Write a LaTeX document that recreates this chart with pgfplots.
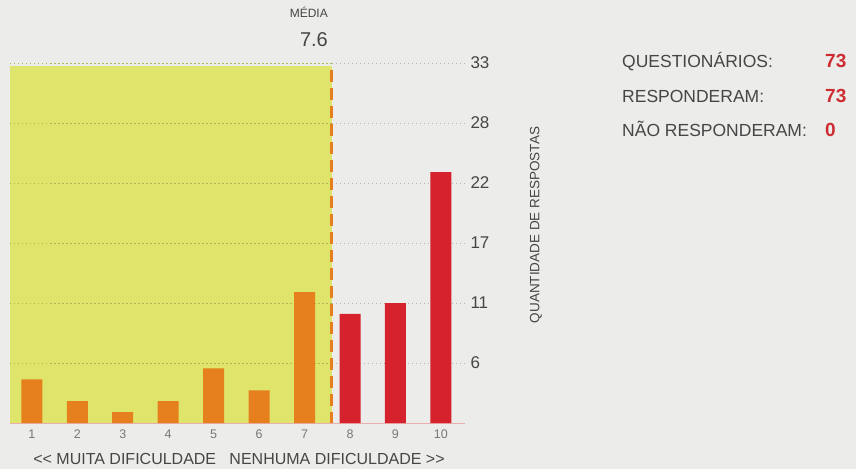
\documentclass[border=0pt]{standalone}
\usepackage{pgfplots}
\pgfplotsset{compat=1.18}
\usepackage{fontspec}
\setmainfont{Liberation Sans}

\definecolor{bgc}{RGB}{236,236,234}
\definecolor{amarelo}{RGB}{223,228,106}
\definecolor{laranja}{RGB}{230,128,30}
\definecolor{vermelho}{RGB}{214,34,44}
\definecolor{numred}{RGB}{205,45,50}
\definecolor{txt}{RGB}{70,70,70}
\definecolor{tick}{RGB}{120,120,120}

\begin{document}
\begin{tikzpicture}
	% page = 856 x 469 (1pt = 1px)
	\fill[bgc] (0pt,0pt) rectangle (856pt,469pt);
	\useasboundingbox (0pt,0pt) rectangle (856pt,469pt);

	\begin{axis}[
			at={(10pt,46pt)}, anchor=south west,
			scale only axis, width=455pt, height=360pt,
			xmin=0.52, xmax=10.53, ymin=0, ymax=33,
			axis line style={draw=none},
			major tick length=0pt,
			xtick={1,...,10},
			ytick={5.5,11,16.5,22,27.5,33},
			yticklabels={6,11,17,22,28,33},
			yticklabel pos=right,
			/pgf/number format/assume math mode=true,
			xticklabel style={font=\fontsize{12.5}{14}\selectfont, text=tick, yshift=-3pt},
			yticklabel style={font=\fontsize{17}{20}\selectfont, text=txt, anchor=west, xshift=2pt},
			clip=false,
		]
		% faixa ate a media
		\addplot[fill=amarelo, draw=none]
			coordinates {(0.52,0) (0.52,32.7) (7.6,32.7) (7.6,0)} -- cycle;

		% linhas de grade
		\pgfplotsinvokeforeach{5.5,11,16.5,22,27.5,33}{
			\addplot[amarelo!80!black, line width=0.9pt, dash pattern=on 1.5pt off 2.5pt] coordinates {(0.52,#1) (7.6,#1)};
			\addplot[gray!60, line width=0.9pt, dash pattern=on 1.5pt off 2.5pt] coordinates {(7.6,#1) (10.53,#1)};
		}

		% linha de base
		\addplot[draw={rgb,255:red,232;green,175;blue,175}, line width=0.8pt]
			coordinates {(0.52,0) (10.53,0)};

		% respostas 1 a 7
		\addplot[ybar, bar shift=0pt, bar width=21pt, fill=laranja, draw=none]
			coordinates {(1,4) (2,2) (3,1) (4,2) (5,5) (6,3) (7,12)};
		% respostas 8 a 10
		\addplot[ybar, bar shift=0pt, bar width=21pt, fill=vermelho, draw=none]
			coordinates {(8,10) (9,11) (10,23)};

		% media 7.6
		\addplot[laranja, line width=3pt, dash pattern=on 12pt off 6pt]
			coordinates {(7.6,32.4) (7.6,0)};
	\end{axis}

	% textos
	\node[anchor=base east, inner sep=0pt, text=txt, font=\fontsize{12}{14}\selectfont] at (328pt,451pt) {MÉDIA};
	\node[anchor=base east, inner sep=0pt, text=txt, font=\fontsize{20}{24}\selectfont] at (328pt,422pt) {7.6};

	\node[rotate=90, text=txt, font=\fontsize{13.5}{15}\selectfont] at (536pt,244pt) {QUANTIDADE DE RESPOSTAS};

	\node[anchor=base, text=txt, font=\fontsize{16}{18}\selectfont] at (239pt,5pt) {<{}< MUITA DIFICULDADE\ \ \ NENHUMA DIFICULDADE >{}>};

	\begin{scope}[font=\fontsize{17.5}{20}\selectfont, inner sep=0pt]
		\node[anchor=base west, text=txt] at (622pt,401pt) {QUESTIONÁRIOS:};
		\node[anchor=base west, text=txt] at (622pt,366pt) {RESPONDERAM:};
		\node[anchor=base west, text=txt] at (622pt,332pt) {NÃO RESPONDERAM:};
		\node[anchor=base west, text=numred, font=\fontsize{19}{20}\selectfont\bfseries] at (825pt,401pt) {73};
		\node[anchor=base west, text=numred, font=\fontsize{19}{20}\selectfont\bfseries] at (825pt,366pt) {73};
		\node[anchor=base west, text=numred, font=\fontsize{19}{20}\selectfont\bfseries] at (825pt,332pt) {0};
	\end{scope}
\end{tikzpicture}
\end{document}
